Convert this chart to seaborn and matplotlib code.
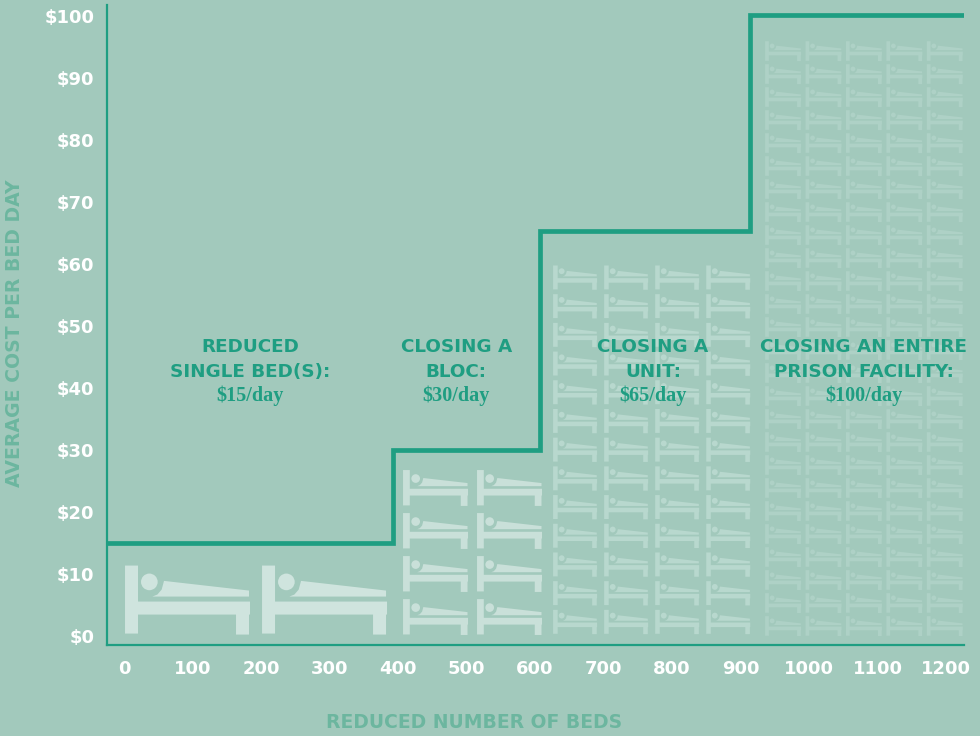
import numpy as np
import pandas as pd
import matplotlib
matplotlib.use('Agg')
import matplotlib.pyplot as plt
from matplotlib.path import Path
import seaborn as sns

# step line
step_x = [-25, 393, 607, 914, 1226]
step_y = [15, 30, 65.4, 100.2, 100.2]

x_ticks = [0, 100, 200, 300, 400, 500, 600, 700, 800, 900, 1000, 1100, 1200]
y_ticks = [0, 10, 20, 30, 40, 50, 60, 70, 80, 90, 100]
y_tick_labels = ['$' + str(v) for v in y_ticks]

# one entry per section
section_titles = [['REDUCED', 'SINGLE BED(S):'],
                  ['CLOSING A', 'BLOC:'],
                  ['CLOSING A', 'UNIT:'],
                  ['CLOSING AN ENTIRE', 'PRISON FACILITY:']]
section_costs = ['$15/day', '$30/day', '$65/day', '$100/day']
bed_cols = [2, 2, 4, 5]
bed_rows = [1, 4, 13, 26]

BG = '#a2c9bc'
GREEN = '#1f9e82'
LABEL = '#6cb69f'

sns.set_theme(style='white')
plt.rcParams['font.family'] = ['DejaVu Sans']

fig = plt.figure(figsize=(9.8, 7.36), dpi=100, facecolor=BG)
ax = fig.add_axes([107 / 980, 1 - 645 / 736, (964 - 107) / 980, 640 / 736], facecolor=BG)


# bed pictogram traced from the big icon, scaled to -1..1 wide
def bed_marker():
    cx, cy, k = 262.5, 181.5, 187.5
    frame = [(75, 78), (114, 78), (114, 186), (450, 186), (450, 225), (447, 225), (447, 285),
             (408, 285), (408, 225), (114, 225), (114, 282), (75, 282), (75, 78)]
    cover = [(192, 124), (447, 153), (447, 171), (157, 171), (172, 165), (185, 150), (192, 124)]
    parts = []
    for pts in (frame, cover):
        v = (np.array(pts, dtype=float) - [cx, cy]) / k * [1, -1]
        parts.append(Path(v, closed=True))
    parts.append(Path.circle(((148 - cx) / k, -(127 - cy) / k), 25 / k))
    return Path.make_compound_path(*parts)


bed = bed_marker()

# px wide, first column, column step, first row, row step, colour
bed_styles = [(125, 92.7, 200, 5.8, 0, '#cfe4de'),
              (65, 454.7, 108, 3.06, 6.94, '#c9e0d9'),
              (44, 658.4, 74.5, 2.26, 4.63, '#b8d8ce'),
              (36, 962, 59, 1.6, 3.71, '#aed1c6')]

for cols, rows, (w, x0, dx, y0, dy, col) in zip(bed_cols, bed_rows, bed_styles):
    gx, gy = np.meshgrid(x0 + dx * np.arange(cols), y0 + dy * np.arange(rows))
    sns.scatterplot(x=gx.ravel(), y=gy.ravel(), marker=bed, s=(w * 0.72) ** 2, color=col,
                    linewidth=0, edgecolor='none', ax=ax, zorder=2, legend=False)

steps = pd.DataFrame({'beds': step_x, 'cost': step_y})
sns.lineplot(data=steps, x='beds', y='cost', drawstyle='steps-post', estimator=None, sort=False,
             color=GREEN, linewidth=3.4, ax=ax, zorder=3, solid_joinstyle='miter',
             solid_capstyle='butt')

ax.set_xlim(-24.8, 1226)
ax.set_ylim(-1.45, 101.8)

sns.despine(ax=ax)
for side in ('left', 'bottom'):
    ax.spines[side].set_color(GREEN)
    ax.spines[side].set_linewidth(1.6)

ax.set_xticks(x_ticks)
ax.set_yticks(y_ticks)
ax.set_yticklabels(y_tick_labels)
ax.tick_params(axis='x', length=0, pad=11, labelsize=13, labelcolor='white')
ax.tick_params(axis='y', length=0, pad=9, labelsize=13, labelcolor='white')
for t in ax.get_xticklabels() + ax.get_yticklabels():
    t.set_fontweight('bold')

ax.set_xlabel('')
ax.set_ylabel('')
fig.text(474 / 980, 1 - 722 / 736, 'REDUCED NUMBER OF BEDS', color=LABEL, fontsize=13.5,
         fontweight='bold', ha='center', va='center')
fig.text(15 / 980, 1 - 333 / 736, 'AVERAGE COST PER BED DAY', color=LABEL, fontsize=13.6,
         fontweight='bold', ha='center', va='center', rotation=90)

section_x = [184, 485, 772, 1080]
for x, title, cost in zip(section_x, section_titles, section_costs):
    ax.text(x, 46.55, title[0], color=GREEN, fontsize=13.2, fontweight='bold',
            ha='center', va='center', zorder=4)
    ax.text(x, 42.65, title[1], color=GREEN, fontsize=13.2, fontweight='bold',
            ha='center', va='center', zorder=4)
    ax.text(x, 38.8, cost, color=GREEN, fontsize=14.5, fontweight='bold',
            family=['Liberation Serif'], ha='center', va='center', zorder=4)

fig.savefig('out.png', dpi=100, facecolor=BG)
